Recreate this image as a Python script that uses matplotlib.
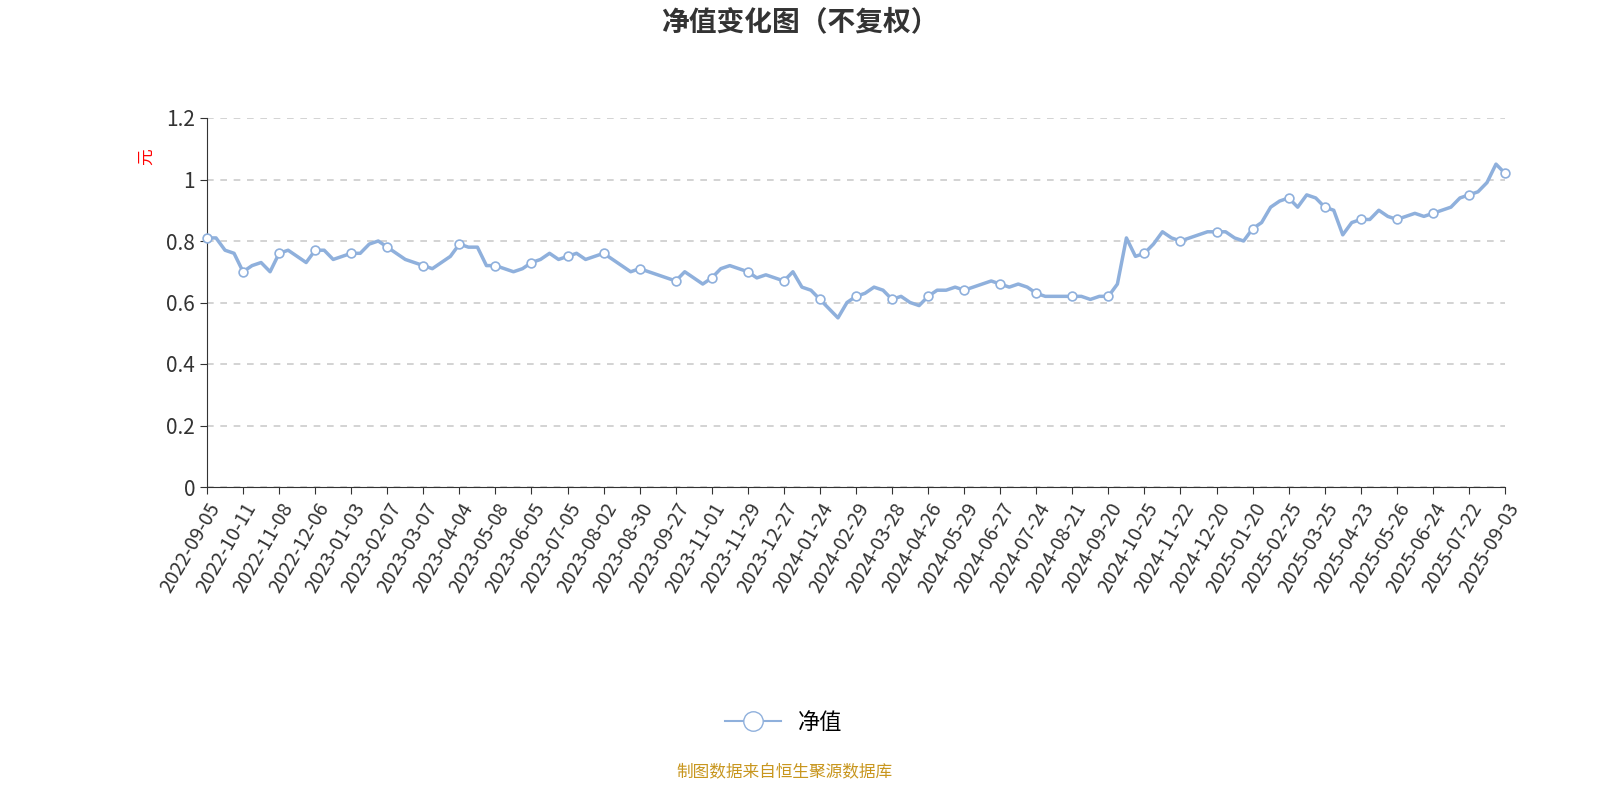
import matplotlib
matplotlib.use("Agg")
import matplotlib.pyplot as plt
from matplotlib.lines import Line2D

plt.rcParams['font.family'] = ['Noto Sans CJK SC', 'DejaVu Sans']

tick_labels = ["2022-09-05","2022-10-11","2022-11-08","2022-12-06","2023-01-03","2023-02-07","2023-03-07",
"2023-04-04","2023-05-08","2023-06-05","2023-07-05","2023-08-02","2023-08-30","2023-09-27","2023-11-01",
"2023-11-29","2023-12-27","2024-01-24","2024-02-29","2024-03-28","2024-04-26","2024-05-29","2024-06-27",
"2024-07-24","2024-08-21","2024-09-20","2024-10-25","2024-11-22","2024-12-20","2025-01-20","2025-02-25",
"2025-03-25","2025-04-23","2025-05-26","2025-06-24","2025-07-22","2025-09-03"]

nav = [0.81,
0.81,0.77,0.76,0.70, 0.72,0.73,0.70,0.76, 0.77,0.75,0.73,0.77, 0.77,0.74,0.75,0.76,
0.76,0.79,0.80,0.78, 0.76,0.74,0.73,0.72, 0.71,0.73,0.75,0.79, 0.78,0.78,0.72,0.72,
0.71,0.70,0.71,0.73, 0.74,0.76,0.74,0.75, 0.76,0.74,0.75,0.76, 0.74,0.72,0.70,0.71,
0.70,0.69,0.68,0.67, 0.70,0.68,0.66,0.68, 0.71,0.72,0.71,0.70, 0.68,0.69,0.68,0.67,
0.70,0.65,0.64,0.61, 0.58,0.55,0.60,0.62, 0.63,0.65,0.64,0.61, 0.62,0.60,0.59,0.62,
0.64,0.64,0.65,0.64, 0.65,0.66,0.67,0.66, 0.65,0.66,0.65,0.63, 0.62,0.62,0.62,0.62,
0.62,0.61,0.62,0.62, 0.66,0.81,0.75,0.76, 0.79,0.83,0.81,0.80, 0.81,0.82,0.83,0.83,
0.83,0.81,0.80,0.84, 0.86,0.91,0.93,0.94, 0.91,0.95,0.94,0.91, 0.90,0.82,0.86,0.87,
0.87,0.90,0.88,0.87, 0.88,0.89,0.88,0.89, 0.90,0.91,0.94,0.95, 0.96,0.99,1.05,1.02]

tick_idx = list(range(0, len(nav), 4))

fig = plt.figure(figsize=(16, 8), dpi=100)
ax = fig.add_axes([207/1600, 1-487/800, (1505-207)/1600, (487-118)/800])
color = '#8fb0dc'
x = list(range(len(nav)))
ax.plot(x, nav, color=color, lw=2.5, zorder=3)
ax.scatter([x[i] for i in tick_idx], [nav[i] for i in tick_idx], s=40, facecolor='white',
           edgecolor=color, linewidth=1.2, zorder=4, clip_on=False)
ax.set_xlim(0, len(nav) - 1)
ax.set_ylim(0, 1.2)
ax.set_yticks([0, 0.2, 0.4, 0.6, 0.8, 1.0, 1.2])
ax.set_yticklabels(['0', '0.2', '0.4', '0.6', '0.8', '1', '1.2'], fontsize=15, color='#333333')
ax.set_xticks(tick_idx)
ax.set_xticklabels(tick_labels, rotation=60, ha='right', rotation_mode='anchor', fontsize=14, color='#333333')
ax.grid(axis='y', ls=(0, (4, 4)), color='#cccccc', lw=1.2)
for s in ['top', 'right']:
    ax.spines[s].set_visible(False)
ax.spines['left'].set_color('#333333')
ax.spines['bottom'].set_color('#333333')
ax.tick_params(length=5, color='#333333')

fig.text(0.5, 1-22/800, '净值变化图（不复权）', ha='center', va='center', fontsize=20, fontweight='bold', color='#333333')
fig.text(146/1600, 1-157/800, '元', rotation=90, ha='center', va='center', fontsize=12, color='red')
h = Line2D([], [], color=color, lw=1.5, marker='o', markersize=14, markerfacecolor='white', markeredgecolor=color)
fig.legend([h], ['净值'], loc='center', bbox_to_anchor=(0.49, 1-722/800), frameon=False, fontsize=16, handlelength=2.5)
fig.text(0.49, 1-773/800, '制图数据来自恒生聚源数据库', ha='center', va='center', fontsize=12, color='#c8961e')
fig.savefig('out.png')
